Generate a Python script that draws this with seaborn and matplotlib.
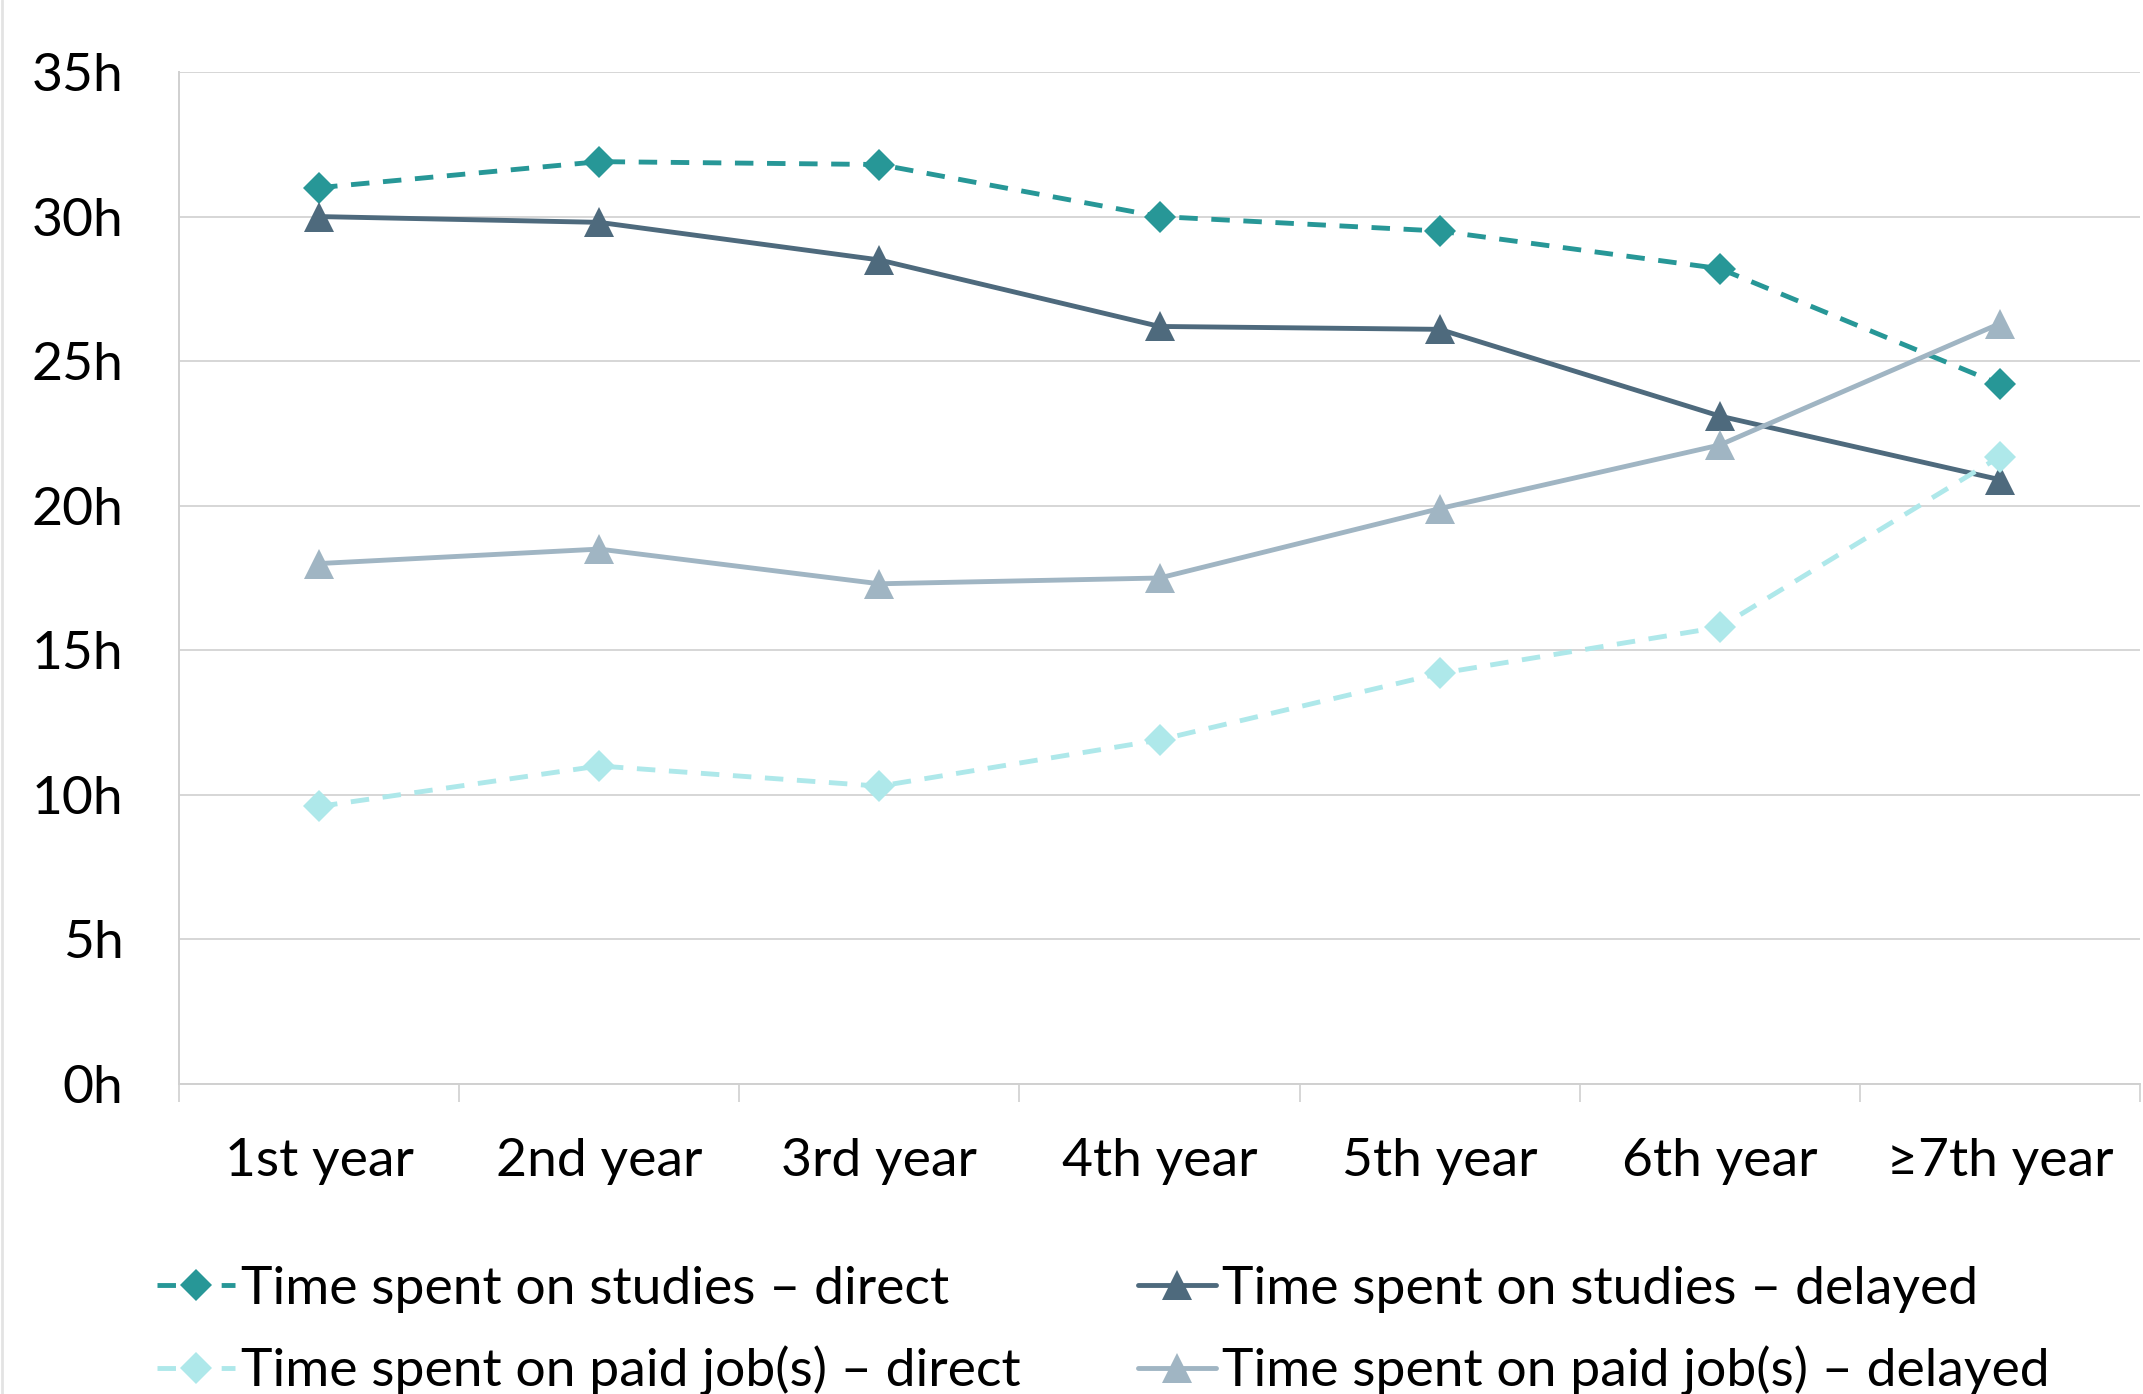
import matplotlib
matplotlib.use("Agg")
import matplotlib.pyplot as plt
from matplotlib.lines import Line2D
from matplotlib.ticker import FixedLocator
import numpy as np
import pandas as pd
import seaborn as sns

# Weekly hours by year of study
years = ["1st year", "2nd year", "3rd year", "4th year", "5th year", "6th year", "≥7th year"]
studies_direct = [31.0, 31.9, 31.8, 30.0, 29.5, 28.2, 24.2]
studies_delayed = [30.0, 29.8, 28.5, 26.2, 26.1, 23.1, 20.9]
paid_direct = [9.6, 11.0, 10.3, 11.9, 14.2, 15.8, 21.7]
paid_delayed = [18.0, 18.5, 17.3, 17.5, 19.9, 22.1, 26.3]

y_ticks = [0, 5, 10, 15, 20, 25, 30, 35]
y_labels = [f"{v}h" for v in y_ticks]

series = [
    ("Time spent on studies – direct", studies_direct, "#279797", "D", True),
    ("Time spent on studies – delayed", studies_delayed, "#4e6a7d", "^", False),
    ("Time spent on paid job(s) – direct", paid_direct, "#aee8ea", "D", True),
    ("Time spent on paid job(s) – delayed", paid_delayed, "#a0b5c3", "^", False),
]

df = pd.DataFrame({"pos": np.arange(len(years))})
for name, vals, *_ in series:
    df[name] = vals

sns.set_theme(style="white")
plt.rcParams["font.family"] = ["Lato", "DejaVu Sans"]

W, H = 2143, 1394
fig = plt.figure(figsize=(W / 100, H / 100), dpi=100)
fig.patch.set_facecolor("white")
ax = fig.add_axes([179 / W, 1 - 1084 / H, (2140 - 179) / W, (1084 - 72) / H])

FS = 38.5
handles = {}
for name, vals, color, marker, dashed in series:
    sns.lineplot(data=df, x="pos", y=name, ax=ax, color=color, linewidth=3.5,
                 marker=marker, markersize=16 if marker == "D" else 22,
                 markeredgewidth=0, markerfacecolor=color, label=name, legend=False)
    line = ax.lines[-1]
    if dashed:
        line.set_dashes((3.8, 2.8))
    handles[name] = line

ax.set_xlim(-0.5, len(years) - 0.5)
ax.set_ylim(0, 35)
ax.set_xticks(range(len(years)))
ax.set_xticklabels(years, fontsize=FS, color="black")
ax.xaxis.set_minor_locator(FixedLocator(np.arange(-0.5, len(years), 1.0)))
ax.set_yticks(y_ticks)
ax.set_yticklabels(y_labels, fontsize=FS, color="black")
ax.tick_params(axis="x", which="major", length=0, pad=39)
ax.tick_params(axis="x", which="minor", length=13, width=1.2, color="#d0d0d0", direction="out", bottom=True)
ax.tick_params(axis="y", length=0, pad=40)
ax.set_xlabel("")
ax.set_ylabel("")

ax.grid(axis="y", color="#d6d6d6", linewidth=1.4)
ax.grid(axis="x", visible=False)
ax.set_axisbelow(True)
for side in ("top", "right"):
    ax.spines[side].set_visible(False)
for side in ("left", "bottom"):
    ax.spines[side].set_color("#d0d0d0")
    ax.spines[side].set_linewidth(1.4)

names = [s[0] for s in series]
col1 = [names[0], names[2]]
col2 = [names[1], names[3]]
leg_kw = dict(fontsize=FS, frameon=False, handlelength=1.45, handletextpad=0.12,
              labelspacing=0.62, numpoints=1, loc="upper left", borderaxespad=0, borderpad=0)
leg1 = fig.legend([handles[n] for n in col1], col1, bbox_to_anchor=(157 / W, 1 - 1266 / H), **leg_kw)
leg2 = fig.legend([handles[n] for n in col2], col2, bbox_to_anchor=(1138 / W, 1 - 1266 / H), **leg_kw)
for leg in (leg1, leg2):
    for t in leg.get_texts():
        t.set_color("black")

# thin frame line along the left edge
fig.add_artist(Line2D([1.5 / W, 1.5 / W], [0, 1], transform=fig.transFigure, color="#e3e3e3", linewidth=2))

fig.savefig("out.png", dpi=100)
